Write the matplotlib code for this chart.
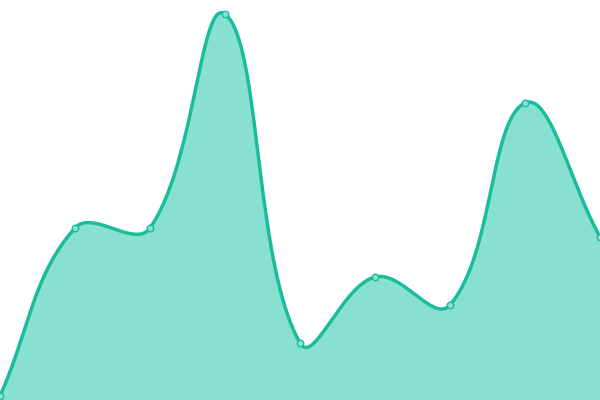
import numpy as np
import matplotlib
matplotlib.use("Agg")
import matplotlib.pyplot as plt


# =========================
# DATA
# =========================

x_vals = [0, 75, 150, 225, 300, 375, 450, 525, 600]

y_vals = [4, 172, 172, 386, 57, 123, 95, 297, 163]

line_color = "#1abc9c"
fill_color = "#88e0d0"


# =========================
# SPLINE (cardinal, tension 0.4)
# =========================

def spline_path(xs, ys, tension=0.4, steps=40):

    pts = np.column_stack([xs, ys]).astype(float)
    n = len(pts)

    cps = []
    for i in range(n):
        prev = pts[max(i - 1, 0)]
        cur = pts[i]
        nxt = pts[min(i + 1, n - 1)]
        d01 = np.hypot(*(cur - prev))
        d12 = np.hypot(*(nxt - cur))
        tot = d01 + d12
        s01 = d01 / tot if tot else 0
        s12 = d12 / tot if tot else 0
        fa = tension * s01
        fb = tension * s12
        cp_prev = cur - fa * (nxt - prev)
        cp_next = cur + fb * (nxt - prev)
        cps.append((cp_prev, cp_next))

    out = [pts[0]]
    t = np.linspace(0, 1, steps)[1:, None]
    for i in range(n - 1):
        p0 = pts[i]
        p1 = cps[i][1]
        p2 = cps[i + 1][0]
        p3 = pts[i + 1]
        seg = ((1 - t) ** 3) * p0 + 3 * ((1 - t) ** 2) * t * p1 \
            + 3 * (1 - t) * t ** 2 * p2 + t ** 3 * p3
        out.extend(seg)

    out = np.array(out)
    return out[:, 0], out[:, 1]


sx, sy = spline_path(x_vals, y_vals)


# =========================
# PLOT
# =========================

fig = plt.figure(figsize=(6, 4), dpi=100)

ax = fig.add_axes([0, 0, 1, 1])

ax.fill_between(sx, sy, 0, color=fill_color, linewidth=0)

ax.plot(sx, sy, color=line_color, linewidth=2.5, solid_capstyle="round")

ax.scatter(
    x_vals,
    y_vals,
    s=22,
    facecolor=fill_color,
    edgecolor=line_color,
    linewidth=1,
    zorder=3,
    clip_on=False
)

ax.set_xlim(0, 600)
ax.set_ylim(0, 400)

ax.axis("off")

fig.savefig("out.png", dpi=100)
